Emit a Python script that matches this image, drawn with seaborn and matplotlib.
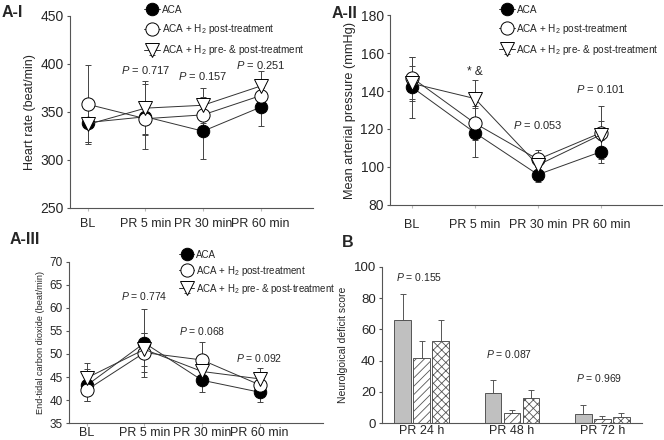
import numpy as np
import pandas as pd
import matplotlib
matplotlib.use("Agg")
import matplotlib.pyplot as plt
import seaborn as sns

sns.set_style("ticks")
plt.rcParams['font.family'] = ['Liberation Sans', 'DejaVu Sans']
plt.rcParams['mathtext.fontset'] = 'custom'
plt.rcParams['mathtext.rm'] = 'Liberation Sans'
plt.rcParams['mathtext.it'] = 'Liberation Sans:italic'
plt.rcParams['mathtext.default'] = 'regular'
plt.rcParams['hatch.color'] = '#666666'
plt.rcParams['hatch.linewidth'] = 0.6

# ---- data ----
timepoints = ["BL", "PR 5 min", "PR 30 min", "PR 60 min"]
series_names = ["ACA", "ACA + H$_2$ post-treatment", "ACA + H$_2$ pre- & post-treatment"]

hr_aca = [339, 345, 330, 355]
hr_aca_sd = [20, 34, 29, 20]
hr_post = [358, 343, 347, 367]
hr_post_sd = [41, 16, 19, 12]
hr_pre = [337, 354, 357, 377]
hr_pre_sd = [18, 28, 18, 16]
hr_pvals = ["", "0.717", "0.157", "0.251"]

map_aca = [142, 118, 96, 108]
map_aca_sd = [16, 13, 4, 6]
map_post = [147, 123, 104, 118]
map_post_sd = [11, 9, 5, 14]
map_pre = [144, 136, 101, 117]
map_pre_sd = [9, 10, 5, 7]

et_aca = [43.2, 52.4, 44.3, 41.7]
et_aca_sd = [3.5, 7.3, 2.5, 2.1]
et_post = [42.2, 50.3, 48.7, 43.3]
et_post_sd = [2.5, 4.3, 3.9, 1.5]
et_pre = [44.8, 51.0, 46.2, 44.6]
et_pre_sd = [3.3, 3.5, 2.0, 2.3]
et_pvals = ["", "0.774", "0.068", "0.092"]

nds_days = ["PR 24 h", "PR 48 h", "PR 72 h"]
nds_aca = [66, 19.5, 6]
nds_aca_sd = [16.5, 8, 5.7]
nds_post = [41.5, 6.3, 2.3]
nds_post_sd = [11, 2.2, 2]
nds_pre = [52.5, 15.8, 3.8]
nds_pre_sd = [13.5, 5.5, 2.5]
nds_pvals = ["0.155", "0.087", "0.969"]

fig = plt.figure(figsize=(6.64, 4.40), dpi=100)
ax1 = fig.add_axes([0.1054, 0.5273, 0.366, 0.4364])
ax2 = fig.add_axes([0.5873, 0.5341, 0.4096, 0.4318])
ax3 = fig.add_axes([0.1039, 0.0386, 0.3825, 0.3660])
ax4 = fig.add_axes([0.5753, 0.0386, 0.3916, 0.3546])

styles = [dict(marker='o', mfc='black', ms=9),
          dict(marker='o', mfc='white', ms=9.5),
          dict(marker='v', mfc='white', ms=10)]


def line_panel(ax, vals, sds, ylim, yticks, xlim, ylabel, ylab_fs, ytick_fs, xpad):
    x = np.arange(len(timepoints))
    for (v, s), st, name in zip(zip(vals, sds), styles, series_names):
        ax.errorbar(x, v, yerr=s, color='#333333', lw=0.7, ecolor='#444444',
                    elinewidth=0.7, capsize=2.5, capthick=0.7, mec='black',
                    mew=0.7, label=name, **st)
    ax.set_xlim(*xlim)
    ax.set_ylim(*ylim)
    ax.set_yticks(yticks)
    ax.set_xticks(x)
    ax.set_xticklabels(timepoints, fontsize=9)
    ax.tick_params(axis='y', labelsize=ytick_fs, length=2.5, color='#555555', pad=2)
    ax.tick_params(axis='x', length=2, color='#bbbbbb', pad=xpad)
    ax.set_ylabel(ylabel, fontsize=ylab_fs, labelpad=3)
    sns.despine(ax=ax)
    for sp in ax.spines.values():
        sp.set_color('#555555')
        sp.set_linewidth(0.8)


line_panel(ax1, [hr_aca, hr_post, hr_pre], [hr_aca_sd, hr_post_sd, hr_pre_sd],
           (250, 450), [250, 300, 350, 400, 450], (-0.31, 3.91),
           "Heart rate (beat/min)", 9, 10, 5)
line_panel(ax2, [map_aca, map_post, map_pre], [map_aca_sd, map_post_sd, map_pre_sd],
           (80, 180), [80, 100, 120, 140, 160, 180], (-0.35, 3.97),
           "Mean arterial pressure (mmHg)", 9.2, 10, 8)
line_panel(ax3, [et_aca, et_post, et_pre], [et_aca_sd, et_post_sd, et_pre_sd],
           (35, 70), [35, 40, 45, 50, 55, 60, 65, 70], (-0.31, 4.1),
           "End-tidal carbon dioxide (beat/min)", 6.6, 8.5, 1)

# p-values / annotations
pfs = 8
for i, (p, y) in enumerate(zip(hr_pvals, [0, 394, 387, 399])):
    if p:
        ax1.text(i, y, r"$\mathit{P}$ = " + p, ha='center', va='center', fontsize=pfs)
ax2.text(1, 150, "* &", ha='center', va='center', fontsize=8.5)
ax2.text(2, 122, r"$\mathit{P}$ = 0.053", ha='center', va='center', fontsize=pfs)
ax2.text(3, 141, r"$\mathit{P}$ = 0.101", ha='center', va='center', fontsize=pfs)
for i, (p, y) in enumerate(zip(et_pvals, [0, 62.6, 55, 49.1])):
    if p:
        ax3.text(i, y, r"$\mathit{P}$ = " + p, ha='center', va='center', fontsize=7.5)

# legends
ax1.legend(loc='upper left', bbox_to_anchor=(139 / 664, 1 - 0 / 440),
           bbox_transform=fig.transFigure, frameon=False, fontsize=7.2,
           handlelength=1.6, handletextpad=0.15, labelspacing=0.72, borderpad=0)
ax2.legend(loc='upper left', bbox_to_anchor=(494 / 664, 1 - 0 / 440),
           bbox_transform=fig.transFigure, frameon=False, fontsize=7.2,
           handlelength=1.6, handletextpad=0.15, labelspacing=0.7, borderpad=0)
ax3.legend(loc='upper left', bbox_to_anchor=(174 / 664, 1 - 245 / 440),
           bbox_transform=fig.transFigure, frameon=False, fontsize=7,
           handlelength=1.6, handletextpad=0.15, labelspacing=0.4, borderpad=0)

# ---- panel B: bars ----
df = pd.DataFrame({
    "day": nds_days * 3,
    "group": ["ACA"] * 3 + ["post"] * 3 + ["pre"] * 3,
    "score": nds_aca + nds_post + nds_pre,
})
sds = [nds_aca_sd, nds_post_sd, nds_pre_sd]
sns.barplot(data=df, x="day", y="score", hue="group", ax=ax4, width=0.63, gap=0.12,
            palette=['#c0c0c0', 'white', 'white'], edgecolor='#555555',
            linewidth=0.7, errorbar=None, legend=False)
hatches = [None, '////', 'xxxx']
for cont, h, sd in zip(ax4.containers, hatches, sds):
    xs, ys = [], []
    for bar in cont:
        if h:
            bar.set_hatch(h)
        xs.append(bar.get_x() + bar.get_width() / 2)
        ys.append(bar.get_height())
    ax4.errorbar(xs, ys, yerr=[np.zeros(len(sd)), sd], fmt='none', ecolor='#555555',
                 elinewidth=0.7, capsize=2.5, capthick=0.7)
ax4.set_xlim(-0.44, 2.44)
ax4.set_ylim(0, 100)
ax4.set_yticks([0, 20, 40, 60, 80, 100])
ax4.set_xlabel("")
ax4.set_ylabel("Neurolgoical deficit score", fontsize=7.5, labelpad=4)
ax4.tick_params(axis='y', labelsize=9.5, length=2.5, color='#555555', pad=2)
ax4.tick_params(axis='x', labelsize=9, length=0, pad=1.5)
sns.despine(ax=ax4)
for sp in ax4.spines.values():
    sp.set_color('#555555')
    sp.set_linewidth(0.8)
for i, (p, y) in enumerate(zip(nds_pvals, [93.7, 44, 29])):
    ax4.text(i - 0.03, y, r"$\mathit{P}$ = " + p, ha='center', va='center', fontsize=7.5)

# panel labels
fig.text(0.003, 0.972, "A-I", fontsize=11.5, fontweight='bold', va='center')
fig.text(0.5, 0.970, "A-II", fontsize=11.5, fontweight='bold', va='center')
fig.text(0.015, 0.455, "A-III", fontsize=11.5, fontweight='bold', va='center')
fig.text(0.515, 0.448, "B", fontsize=11.5, fontweight='bold', va='center')

fig.savefig("out.png", dpi=100)
